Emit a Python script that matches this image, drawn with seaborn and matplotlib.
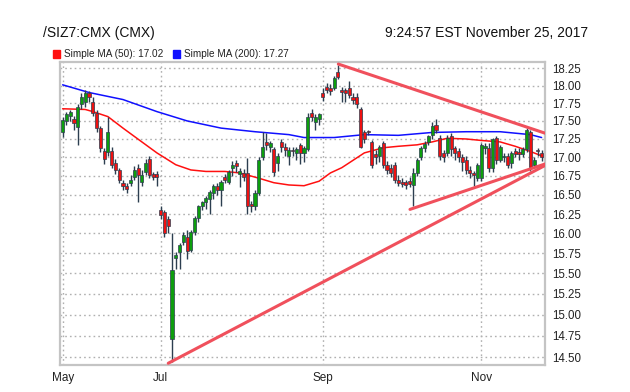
import matplotlib
matplotlib.use("Agg")
import matplotlib.pyplot as plt
import matplotlib.ticker as mticker
from matplotlib.patches import Rectangle
import numpy as np
import pandas as pd
import seaborn as sns

# trading days on the chart (exchange holidays dropped)
holidays = ["2017-05-29", "2017-07-04", "2017-09-04", "2017-11-23"]
dates = pd.bdate_range("2017-05-25", "2017-11-24")
dates = dates[~dates.isin(pd.to_datetime(holidays))]

opens = [
    17.35, 17.50, 17.57, 17.53, 17.41, 17.73, 17.76, 17.89, 17.76, 17.61,
    17.40, 17.08, 17.07, 17.08, 16.93, 16.83, 16.66, 16.62, 16.66, 16.74,
    16.85, 16.67, 16.80, 16.98, 16.78, 16.77,
    16.30, 16.27, 16.18, 14.71, 15.69, 15.76, 15.89, 15.96, 15.79, 16.02,
    16.20, 16.35, 16.40, 16.44, 16.53, 16.61, 16.57, 16.74, 16.67, 16.85,
    16.93, 16.78, 16.79, 16.79, 16.38, 16.35, 16.53, 17.00, 17.21, 17.14,
    17.11, 16.93, 17.21, 17.14, 17.02, 17.10, 17.06, 17.17, 17.06, 17.11,
    17.61, 17.48, 17.52, 17.89, 17.98, 17.97, 17.97, 18.20, 17.93, 17.93,
    17.97, 17.84, 17.84, 17.66, 17.34, 17.36, 17.21, 17.04, 17.02, 17.19,
    16.90, 16.85, 16.90, 16.70, 16.67, 16.67, 16.68, 16.63, 16.79, 17.00,
    17.13, 17.21, 17.31, 17.45, 17.27, 17.06, 17.06, 17.29, 17.12, 17.08,
    17.00, 16.97, 16.83, 16.79, 16.72, 16.72, 17.12, 17.13, 16.85, 17.27,
    16.97, 17.00, 17.02, 16.92, 17.08, 17.07, 17.04, 17.11, 17.35, 16.90,
    17.10, 17.06,
]
highs = [
    17.56, 17.63, 17.65, 17.57, 17.74, 17.89, 17.94, 17.92, 17.83, 17.65,
    17.43, 17.12, 17.55, 17.14, 16.98, 16.86, 16.70, 16.66, 16.76, 16.88,
    16.91, 16.83, 16.98, 17.02, 16.80, 16.82,
    16.35, 16.30, 16.22, 16.00, 15.77, 15.88, 16.02, 16.05, 16.05, 16.22,
    16.37, 16.42, 16.48, 16.56, 16.64, 16.65, 16.69, 16.78, 16.83, 16.95,
    16.97, 16.85, 16.84, 16.99, 16.42, 16.56, 17.01, 17.35, 17.33, 17.22,
    17.14, 17.06, 17.25, 17.20, 17.14, 17.14, 17.14, 17.20, 17.16, 17.61,
    17.67, 17.59, 17.61, 17.96, 18.03, 18.02, 18.14, 18.29, 17.98, 17.96,
    18.07, 17.89, 17.89, 17.69, 17.38, 17.38, 17.24, 17.10, 17.17, 17.22,
    16.95, 16.91, 16.94, 16.76, 16.72, 16.70, 16.73, 16.85, 16.99, 17.16,
    17.22, 17.31, 17.48, 17.52, 17.31, 17.10, 17.31, 17.33, 17.16, 17.12,
    17.04, 17.02, 16.88, 16.82, 16.93, 17.20, 17.20, 17.20, 17.27, 17.29,
    17.17, 17.06, 17.06, 17.08, 17.12, 17.12, 17.14, 17.40, 17.38, 17.00,
    17.12, 17.10,
]
lows = [
    17.28, 17.44, 17.50, 17.38, 17.17, 17.67, 17.70, 17.76, 17.57, 17.35,
    17.07, 16.91, 17.02, 16.85, 16.78, 16.66, 16.56, 16.52, 16.62, 16.70,
    16.41, 16.62, 16.76, 16.72, 16.70, 16.62,
    16.18, 15.95, 16.00, 14.45, 15.55, 15.55, 15.85, 15.68, 15.76, 15.98,
    16.15, 16.30, 16.32, 16.25, 16.45, 16.50, 16.35, 16.66, 16.64, 16.75,
    16.80, 16.60, 16.68, 16.25, 16.28, 16.30, 16.50, 16.96, 17.10, 17.07,
    16.75, 16.82, 17.07, 17.02, 16.89, 17.02, 16.97, 16.91, 16.94, 17.08,
    17.50, 17.38, 17.44, 17.78, 17.89, 17.87, 17.93, 18.09, 17.76, 17.76,
    17.82, 17.74, 17.68, 17.12, 17.20, 17.31, 16.85, 16.91, 16.94, 16.85,
    16.78, 16.74, 16.66, 16.62, 16.60, 16.58, 16.60, 16.35, 16.75, 16.96,
    17.07, 17.17, 17.25, 17.33, 16.97, 16.94, 17.02, 17.02, 16.97, 16.94,
    16.82, 16.78, 16.72, 16.61, 16.68, 16.68, 17.04, 16.80, 16.80, 16.91,
    16.94, 16.94, 16.85, 16.86, 17.00, 16.97, 17.00, 17.07, 16.82, 16.86,
    17.02, 16.95,
]
closes = [
    17.51, 17.59, 17.62, 17.47, 17.69, 17.83, 17.89, 17.83, 17.61, 17.40,
    17.13, 16.98, 17.34, 16.90, 16.83, 16.70, 16.61, 16.58, 16.70, 16.83,
    16.76, 16.76, 16.93, 16.76, 16.74, 16.74,
    16.24, 16.01, 16.09, 15.54, 15.73, 15.85, 15.98, 15.78, 16.02, 16.20,
    16.35, 16.40, 16.46, 16.54, 16.61, 16.57, 16.67, 16.70, 16.80, 16.90,
    16.88, 16.82, 16.74, 16.35, 16.36, 16.53, 16.97, 17.14, 17.17, 17.19,
    16.80, 17.02, 17.14, 17.10, 17.10, 17.08, 17.11, 17.06, 17.12, 17.55,
    17.56, 17.55, 17.59, 17.83, 17.94, 17.92, 18.11, 18.12, 17.91, 17.89,
    17.87, 17.80, 17.73, 17.14, 17.25, 17.35, 16.90, 17.00, 17.14, 16.90,
    16.83, 16.79, 16.70, 16.66, 16.64, 16.63, 16.64, 16.79, 16.97, 17.13,
    17.18, 17.29, 17.43, 17.38, 17.02, 17.01, 17.27, 17.11, 17.06, 17.00,
    16.94, 16.83, 16.79, 16.76, 16.90, 17.17, 17.16, 16.85, 17.25, 16.97,
    17.14, 17.02, 16.90, 17.06, 17.04, 17.04, 17.11, 17.38, 16.87, 16.97,
    17.09, 17.01,
]

# moving averages at sample days
ma50_idx = [0, 6, 8, 12, 16, 21, 25, 30, 34, 38, 43, 47, 52, 56, 60, 64,
            68, 71, 74, 80, 85, 89, 94, 98, 102, 107, 111, 116, 120, 124, 127]
ma50_val = [17.67, 17.66, 17.63, 17.56, 17.40, 17.21, 17.06, 16.90, 16.83,
            16.81, 16.81, 16.79, 16.72, 16.66, 16.63, 16.62, 16.68, 16.79,
            16.86, 17.06, 17.13, 17.15, 17.17, 17.21, 17.26, 17.25, 17.23,
            17.21, 17.15, 17.08, 17.02]
ma200_idx = [0, 7, 16, 25, 33, 42, 51, 60, 64, 72, 80, 89, 98, 107, 116, 124, 127]
ma200_val = [18.01, 17.90, 17.80, 17.63, 17.50, 17.40, 17.35, 17.31, 17.27,
             17.27, 17.31, 17.30, 17.34, 17.35, 17.35, 17.31, 17.27]

# drawn trend lines: start day, start price, end day, end price
trend_lines = [
    (73.1, 18.31, 127.9, 17.33),
    (92.1, 16.31, 127.9, 16.91),
    (28.0, 14.43, 127.9, 16.89),
]

yticks = [14.50, 14.75, 15.00, 15.25, 15.50, 15.75, 16.00, 16.25, 16.50,
          16.75, 17.00, 17.25, 17.50, 17.75, 18.00, 18.25]

sns.set_theme(style="white")
plt.rcParams["font.family"] = ["Liberation Sans", "DejaVu Sans"]

fig = plt.figure(figsize=(6.3, 3.92), dpi=100)
ax = fig.add_axes([60 / 630, 27 / 392, 485 / 630, 303 / 392])

x = np.arange(len(dates))
o = np.array(opens)
c = np.array(closes)
up = c >= o

ax.set_yscale("log")
ax.set_ylim(14.41, 18.34)
ax.set_xlim(-0.7, 127.9)

ax.grid(True, color="#b0b0b0", linestyle=(0, (1.2, 2.2)), linewidth=1.0)
ax.set_axisbelow(True)

# moving averages
sns.lineplot(x=ma200_idx, y=ma200_val, color="#1010ff", linewidth=1.1, ax=ax)
sns.lineplot(x=ma50_idx, y=ma50_val, color="#ff1010", linewidth=1.1, ax=ax)

# candles
wick = "#2c3e50"
ax.vlines(x, lows, highs, color=wick, linewidth=1.0, zorder=3)
body_lo = np.minimum(o, c)
body_h = np.maximum(np.abs(c - o), 0.008)
ax.bar(x, body_h, bottom=body_lo, width=0.82,
       color=np.where(up, "#0d9e0d", "#ee1111"),
       edgecolor=wick, linewidth=0.5, zorder=4)

# trend lines
for i0, p0, i1, p1 in trend_lines:
    ax.plot([i0, i1], [p0, p1], color="#f0505c", linewidth=2.2,
            solid_capstyle="round", zorder=5)

ax.yaxis.tick_right()
ax.yaxis.set_major_locator(mticker.FixedLocator(yticks))
ax.yaxis.set_major_formatter(mticker.FormatStrFormatter("%.2f"))
ax.yaxis.set_minor_locator(mticker.NullLocator())

# month ticks at the first trading day of every other month
month_pos = [0] + [i for i in range(1, len(dates))
                   if dates[i].month != dates[i - 1].month and dates[i].month in (7, 9, 11)]
ax.set_xticks(month_pos)
ax.set_xticklabels([dates[i].strftime("%b") for i in month_pos])

ax.tick_params(axis="x", labelsize=8.5, colors="#222222", length=3, width=1,
               color="#999999", pad=2)
ax.tick_params(axis="y", labelsize=8.3, colors="#222222", length=0, pad=5)
for s in ax.spines.values():
    s.set_color("#c4c4c4")
    s.set_linewidth(1.6)
ax.set_xlabel("")
ax.set_ylabel("")

# header
fig.text(43 / 630, 1 - 33 / 392, "/SIZ7:CMX (CMX)", fontsize=10,
         va="center", ha="left", color="#111111")
fig.text(588 / 630, 1 - 33 / 392, "9:24:57 EST November 25, 2017", fontsize=10,
         va="center", ha="right", color="#111111")

# legend
legend_items = [(52.5, 63.5, "#ff1010", f"Simple MA (50): {ma50_val[-1]:.2f}"),
                (172.5, 184, "#1010ff", f"Simple MA (200): {ma200_val[-1]:.2f}")]
for sq_x, tx_x, col, label in legend_items:
    fig.patches.append(Rectangle((sq_x / 630, 1 - 57.5 / 392), 7 / 630, 7 / 392,
                                 transform=fig.transFigure, color=col))
    fig.text(tx_x / 630, 1 - 54 / 392, label, fontsize=7.2, va="center",
             ha="left", color="#222222")

fig.savefig("out.png", dpi=100)
